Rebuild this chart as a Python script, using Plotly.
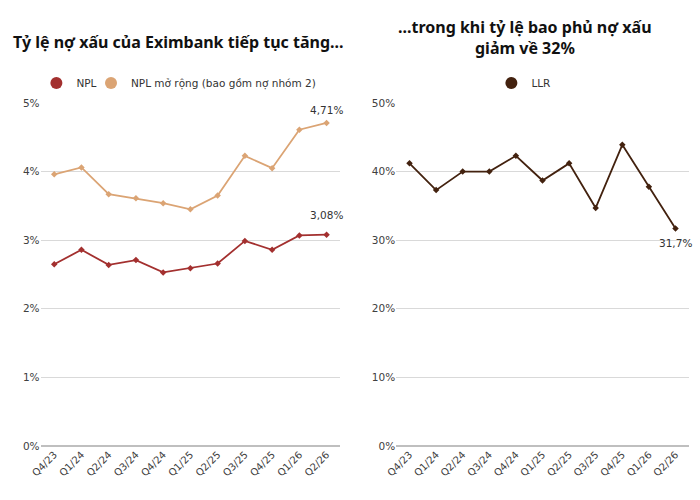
import plotly.graph_objects as go

quarters = ["Q4/23", "Q1/24", "Q2/24", "Q3/24", "Q4/24", "Q1/25", "Q2/25",
            "Q3/25", "Q4/25", "Q1/26", "Q2/26"]
npl = [2.65, 2.86, 2.64, 2.71, 2.53, 2.59, 2.66, 2.99, 2.86, 3.07, 3.08]
npl_ext = [3.96, 4.06, 3.67, 3.61, 3.54, 3.45, 3.65, 4.23, 4.05, 4.61, 4.71]
llr = [41.2, 37.3, 40.0, 40.0, 42.3, 38.7, 41.2, 34.7, 43.9, 37.8, 31.7]

left_ticks = [0, 1, 2, 3, 4, 5]
right_ticks = [0, 10, 20, 30, 40, 50]

C_NPL = "#A3302F"
C_EXT = "#DBA474"
C_LLR = "#43220F"
FONT = "DejaVu Sans"
TFONT = "Noto Sans"

fig = go.Figure()

series = [
    (npl, "NPL", C_NPL, "x", "y", "legend"),
    (npl_ext, "NPL mở rộng (bao gồm nợ nhóm 2)", C_EXT, "x", "y", "legend3"),
    (llr, "LLR", C_LLR, "x2", "y2", "legend2"),
]
for vals, name, col, xa, ya, lg in series:
    fig.add_trace(go.Scatter(
        x=quarters, y=vals, name=name, mode="lines+markers",
        line=dict(color=col, width=1.8),
        marker=dict(symbol="diamond", size=5, color=col),
        xaxis=xa, yaxis=ya, showlegend=False))
    # legend-only circle entry
    fig.add_trace(go.Scatter(
        x=[None], y=[None], name=name, mode="markers",
        marker=dict(symbol="circle", size=12, color=col),
        xaxis=xa, yaxis=ya, legend=lg, showlegend=True))

xcommon = dict(type="category", tickangle=-45, showgrid=False, showline=False,
               ticks="", tickfont=dict(family=FONT, size=10, color="#404040"),
               range=[-0.5, 10.5], fixedrange=True, automargin=False)
ycommon = dict(showgrid=True, gridcolor="#d9d9d9", gridwidth=1, zeroline=True,
               zerolinecolor="#bfbfbf", zerolinewidth=1.5,
               ticks="", showline=False, automargin=False,
               tickfont=dict(family=FONT, size=10.5, color="#404040"))

leg_common = dict(orientation="h", xanchor="left", y=0.834, yanchor="middle",
                  font=dict(family=FONT, size=10.5, color="#333"),
                  itemwidth=30, bgcolor="rgba(0,0,0,0)")

fig.update_layout(
    width=700, height=500,
    margin=dict(l=0, r=0, t=0, b=0, autoexpand=False),
    paper_bgcolor="white", plot_bgcolor="white",
    font=dict(family=FONT, color="#222"),
    xaxis=dict(domain=[0.058, 0.486], anchor="y", **xcommon),
    yaxis=dict(domain=[0.108, 0.794], anchor="x", range=[0, 5], tickvals=left_ticks,
               ticktext=[f"{v}%" for v in left_ticks], **ycommon),
    xaxis2=dict(domain=[0.566, 0.984], anchor="y2", **xcommon),
    yaxis2=dict(domain=[0.108, 0.794], anchor="x2", range=[0, 50], tickvals=right_ticks,
                ticktext=[f"{v}%" for v in right_ticks], **ycommon),
    legend=dict(x=0.052, **leg_common),
    legend3=dict(x=0.130, **leg_common),
    legend2=dict(x=0.702, **leg_common),
    showlegend=True,
)

ann = [
    dict(text="<b>Tỷ lệ nợ xấu của Eximbank tiếp tục tăng...</b>", x=178 / 700, y=1 - 42 / 500,
         xref="paper", yref="paper", showarrow=False, xanchor="center", yanchor="middle",
         font=dict(family=TFONT, size=16, color="#111")),
    dict(text="<b>...trong khi tỷ lệ bao phủ nợ xấu</b>", x=525 / 700, y=1 - 27 / 500,
         xref="paper", yref="paper", showarrow=False, xanchor="center", yanchor="middle",
         font=dict(family=TFONT, size=16, color="#111")),
    dict(text="<b>giảm về 32%</b>", x=525 / 700, y=1 - 48 / 500,
         xref="paper", yref="paper", showarrow=False, xanchor="center", yanchor="middle",
         font=dict(family=TFONT, size=16, color="#111")),
    dict(text="4,71%", x=quarters[-1], y=npl_ext[-1], xref="x", yref="y", showarrow=False,
         yshift=13, font=dict(family=FONT, size=10.5, color="#333")),
    dict(text="3,08%", x=quarters[-1], y=npl[-1], xref="x", yref="y", showarrow=False,
         yshift=20, font=dict(family=FONT, size=10.5, color="#333")),
    dict(text="31,7%", x=quarters[-1], y=llr[-1], xref="x2", yref="y2", showarrow=False,
         yshift=-14, font=dict(family=FONT, size=10.5, color="#333")),
]
fig.update_layout(annotations=ann)

fig.write_html("out.html")
